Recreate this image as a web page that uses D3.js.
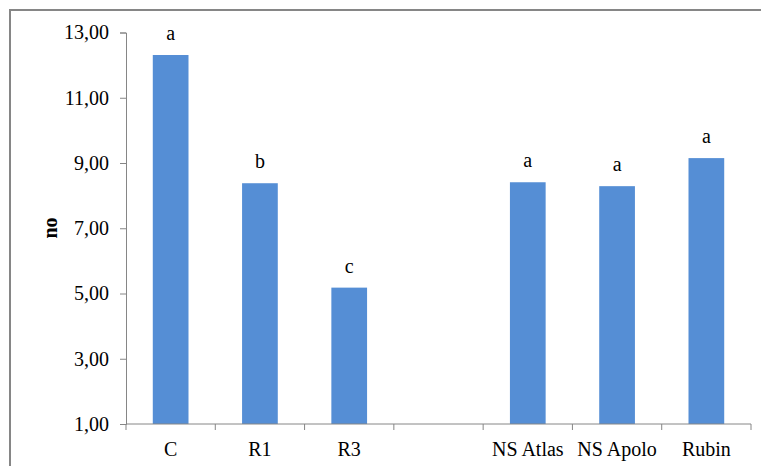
<!DOCTYPE html>
<html>
<head>
<meta charset="utf-8">
<script src="https://cdn.jsdelivr.net/npm/d3@7"></script>
<style>
  html, body { margin: 0; padding: 0; background: #fff; }
  svg { display: block; }
  text { font-family: "Liberation Serif", "Times New Roman", serif; fill: #000; }
</style>
</head>
<body>
<svg id="chart" width="761" height="466"></svg>
<script>
// Treatment groups (blank slot separates the two groups)
const categories = ["C", "R1", "R3", "", "NS Atlas", "NS Apolo", "Rubin"];
const values = [12.31, 8.38, 5.18, null, 8.41, 8.29, 9.15];
const letters = ["a", "b", "c", "", "a", "a", "a"];
const yTicks = [1, 3, 5, 7, 9, 11, 13];
const yTitle = "no";

const svg = d3.select("#chart");
const axisColor = "#868686";

// outer frame
svg.append("rect")
  .attr("x", 10).attr("y", 10)
  .attr("width", 770).attr("height", 480)
  .attr("fill", "none")
  .attr("stroke", axisColor)
  .attr("stroke-width", 2);

const plot = { left: 126, right: 751, top: 32.5, bottom: 424 };

const x = d3.scaleBand()
  .domain(categories)
  .range([plot.left, plot.right])
  .paddingInner(0.6)
  .paddingOuter(0.3);

const y = d3.scaleLinear()
  .domain([1, 13])
  .range([plot.bottom, plot.top]);

const fmt = v => d3.format(".2f")(v).replace(".", ",");

// y axis
const yAxis = svg.append("g")
  .attr("transform", `translate(${plot.left},0)`)
  .call(d3.axisLeft(y).tickValues(yTicks).tickFormat(fmt).tickSize(6).tickPadding(11));
yAxis.select(".domain").attr("stroke", axisColor);
yAxis.selectAll(".tick line").attr("stroke", axisColor);
yAxis.selectAll(".tick text")
  .attr("font-size", 20)
  .attr("font-family", "Liberation Serif, serif")
  .attr("fill", "#000");

// bars
const data = categories.map((c, i) => ({ c, v: values[i], l: letters[i] }))
  .filter(d => d.v !== null);

svg.append("g").selectAll("rect")
  .data(data)
  .join("rect")
  .attr("x", d => x(d.c))
  .attr("width", x.bandwidth())
  .attr("y", d => y(d.v))
  .attr("height", d => y(1) - y(d.v))
  .attr("fill", "#558ED5");

// significance letters
svg.append("g").selectAll("text")
  .data(data)
  .join("text")
  .attr("x", d => x(d.c) + x.bandwidth() / 2)
  .attr("y", d => y(d.v) - 15)
  .attr("text-anchor", "middle")
  .attr("font-size", 20)
  .text(d => d.l);

// x axis: baseline, boundary ticks, centred labels
const xg = svg.append("g");
xg.append("line")
  .attr("x1", plot.left).attr("x2", plot.right)
  .attr("y1", plot.bottom).attr("y2", plot.bottom)
  .attr("stroke", axisColor);

const step = x.step();
const bounds = d3.range(categories.length + 1).map(i => plot.left + i * step);
xg.selectAll("line.tick")
  .data(bounds)
  .join("line")
  .attr("class", "tick")
  .attr("x1", d => d).attr("x2", d => d)
  .attr("y1", plot.bottom).attr("y2", plot.bottom + 6)
  .attr("stroke", axisColor);

xg.selectAll("text")
  .data(categories)
  .join("text")
  .attr("x", d => x(d) + x.bandwidth() / 2)
  .attr("y", plot.bottom + 32)
  .attr("text-anchor", "middle")
  .attr("font-size", 20)
  .text(d => d);

// y title
svg.append("text")
  .attr("transform", "translate(57,228) rotate(-90)")
  .attr("text-anchor", "middle")
  .attr("font-size", 20)
  .attr("font-weight", "bold")
  .text(yTitle);
</script>
</body>
</html>
